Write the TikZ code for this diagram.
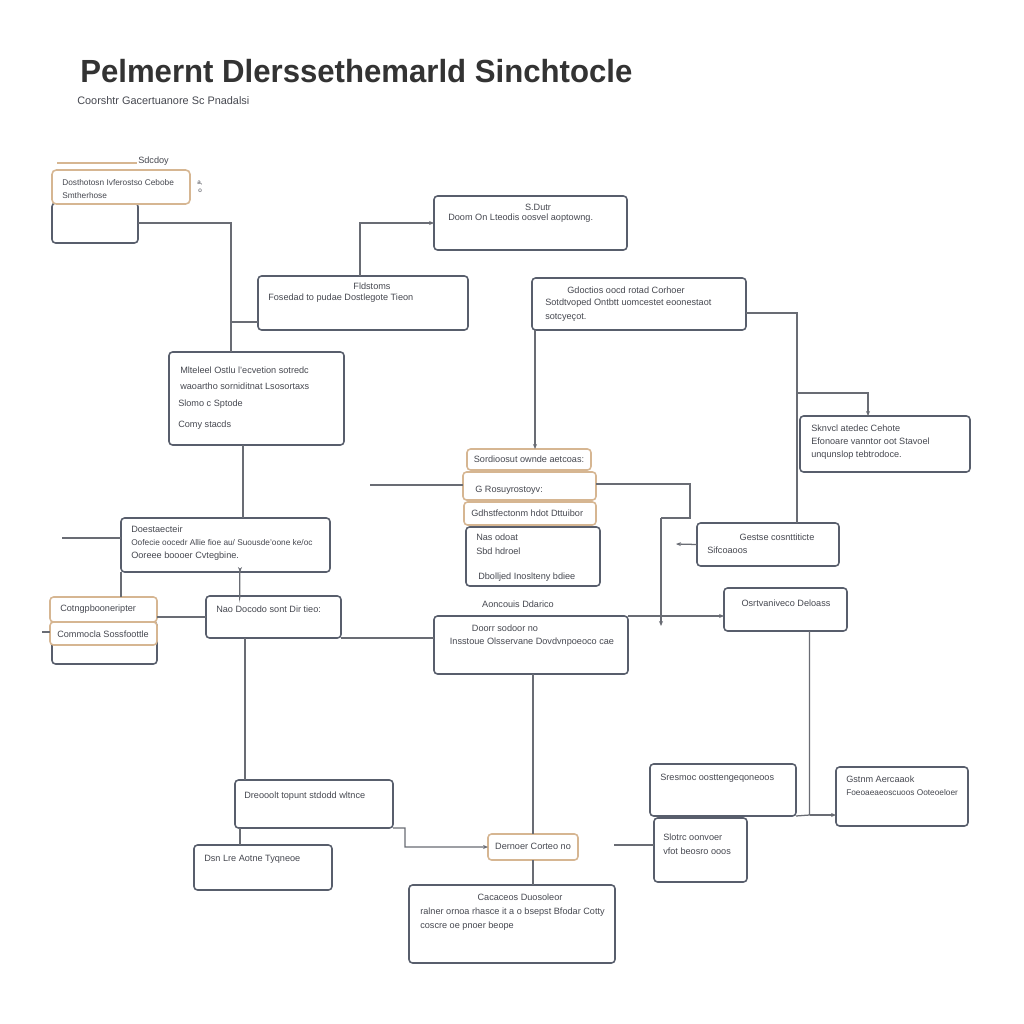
\documentclass[tikz,border=0pt]{standalone}
\usepackage{fontspec}
\setmainfont{Liberation Sans}
\usetikzlibrary{arrows.meta,calc}
\definecolor{boxc}{RGB}{88,94,108}
\definecolor{linec}{RGB}{105,108,116}
\definecolor{tanc}{RGB}{214,182,146}
\definecolor{txtc}{RGB}{70,72,80}
\newcommand{\mybx}[6][]{%
 \pgfmathsetmacro{\bxcx}{(#3+#5)/2}\pgfmathsetmacro{\bxcy}{(#4+#6)/2}%
 \pgfmathsetmacro{\bxw}{(#5-#3)*0.025}\pgfmathsetmacro{\bxh}{(#6-#4)*0.025}%
 \node[boxs,#1,minimum width=\bxw cm,minimum height=\bxh cm] (#2) at (\bxcx,\bxcy) {};}
\begin{document}
\begin{tikzpicture}[x=0.025cm,y=-0.025cm,
 boxs/.style={draw=boxc,line width=1.1pt,rounded corners=2.5pt,fill=white,inner sep=0pt,outer sep=0pt},
 tanbox/.style={draw=tanc,line width=1.1pt},
 t/.style={text=txtc,font=\fontsize{6.5}{7}\selectfont,inner sep=0pt,anchor=west},
 ts/.style={t,font=\fontsize{5.9}{7}\selectfont},
 tc/.style={t,anchor=center},
 conn/.style={draw=linec,line width=0.9pt},
 arr/.style={conn,-{Stealth[length=3.5pt,width=2.8pt]}}]
\useasboundingbox (0,0) rectangle (1024,1024);
\fill[white] (0,0) rectangle (1024,1024);

% title
\node[inner sep=0pt,anchor=base west,text=black!80] (title) at (80,83) {\resizebox{13.8cm}{0.58cm}{\bfseries Pelmernt Dlerssethemarld Sinchtocle}};
\node[inner sep=0pt,anchor=west,text=txtc] (sub) at (77,101) {\resizebox{4.3cm}{!}{\fontsize{6}{7}\selectfont Coorshtr Gacertuanore Sc Pnadalsi}};

% waypoints
\coordinate (w1) at (231,322);
\coordinate (w2) at (360,222);
\coordinate (w3) at (535,0);
\coordinate (w4) at (797,313);
\coordinate (w5) at (797,393);
\coordinate (w6) at (868,393);
\coordinate (w7) at (243,0);
\coordinate (e1) at (370,485);
\coordinate (w8) at (690,484);
\coordinate (w9) at (690,518);
\coordinate (w10) at (661,518);
\coordinate (w11) at (661,626);
\coordinate (a13) at (676,544);
\coordinate (e2) at (62,538);
\coordinate (w12) at (240,0);
\coordinate (w13) at (245,0);
\coordinate (w14) at (533,0);
\coordinate (w15) at (405,828);
\coordinate (w16) at (809.5,815);
\coordinate (e3) at (614,845);
\coordinate (e4) at (42,632);

% boxes
\mybx{b1c}{52}{203}{138}{243}
\mybx[tanbox,rounded corners=3pt]{b1}{52}{170}{190}{204}
\mybx{b2}{434}{196}{627}{250}
\mybx{b3}{258}{276}{468}{330}
\mybx{b4}{532}{278}{746}{330}
\mybx{b5}{169}{352}{344}{445}
\mybx{b6}{800}{416}{970}{472}
\mybx{b7d}{466}{527}{600}{586}
\mybx[draw=tanc]{b7c}{464}{502}{596}{525}
\mybx[tanbox]{b7b}{463}{472}{596}{500}
\mybx[tanbox]{b7a}{467}{449}{591}{470}
\mybx{b8}{121}{518}{330}{572}
\mybx{b9c}{52}{622}{157}{664}
\mybx[tanbox]{b9b}{50}{622}{157}{645}
\mybx[tanbox]{b9a}{50}{597}{157}{622}
\mybx{b10}{206}{596}{341}{638}
\mybx{b11}{434}{616}{628}{674}
\mybx{b12}{724}{588}{847}{631}
\mybx{b13}{697}{523}{839}{566}
\mybx{b14}{235}{780}{393}{828}
\mybx{b15}{194}{845}{332}{890}
\mybx[tanbox]{b16}{488}{834}{578}{860}
\mybx{b17}{409}{885}{615}{963}
\mybx{b19}{654}{818}{747}{882}
\mybx{b18}{650}{764}{796}{816}
\mybx{b20}{836}{767}{968}{826}

% connectors
\draw[conn] (b1c.east) -| (w1) -- (b3.west |- w1);
\draw[conn] (w1) -- (w1 |- b5.north);
\draw[arr] (b3.north -| w2) |- (b2.west);
\draw[arr] (b4.south -| w3) -- (b7a.north -| w3);
\draw[conn] (b4.east |- w4) -| (b13.north -| w4);
\draw[arr] (w5) -- (w6) -- (b6.north -| w6);
\draw[conn] (b5.south -| w7) -- (b8.north -| w7);
\draw[conn] (e1) -- (b7b.west |- e1);
\draw[conn] (b7b.east |- w8) -- (w8) -- (w9) -- (w10);
\draw[arr] (w10) -- (w11);
\draw[arr] (b11.north east) -- (b12.west |- b11.north east);
\draw[arr] (b13.west) -- (a13);
\draw[conn] (e2) -- (b8.west |- e2);
\draw[conn] (b8.south west) -- (b9a.north -| b8.south west);
\draw[conn] (b10.west) -- (b9a.east |- b10.west);
\draw[arr] (b10.north -| w12) to[out=-95,in=90] (b8.south -| w12);
\draw[conn] (b10.south east) -- (b11.west |- b10.south east);
\draw[conn] (b10.south -| w13) -- (b14.north -| w13);
\draw[conn] (b11.south -| w14) -- (b16.north -| w14);
\draw[arr] (b14.south east) -- (w15) |- (b16.west);
\draw[conn] (b14.south -| w12) -- (b15.north -| w12);
\draw[conn] (b16.south) -- (b17.north -| b16.south);
\draw[conn] (b12.south -| w16) -- (w16) -- (b18.south east);
\draw[arr] (w16) -- (b20.west |- w16);
\draw[conn] (e3) -- (b19.west |- e3);
\draw[conn] (e4) -- (b9b.west |- e4);

% texts
\node[ts] (tx1a) at (62,183) {Dosthotosn Ivferostso Cebobe};
\node[ts] (tx1b) at (62,196) {Smtherhose};
\draw[draw=tanc,line width=0.9pt] (b1.north west) ++(5,-7) coordinate (tab1) -- ++(80,0) coordinate (tab2);
\node[t] (tx1c) at (138,161) {Sdcdoy};
\node[t,font=\fontsize{4.5}{5}\selectfont] (tx1d) at (197,183) {a,};
\node[t,font=\fontsize{4.5}{5}\selectfont] (tx1e) at (198,191) {o};

\node[tc] (tx2a) at (538,207) {S.Dutr};
\node[t] (tx2b) at (448,218) {Doom On Lteodis oosvel aoptowng.};

\node[tc] (tx3a) at (372,286) {Fldstoms};
\node[t] (tx3b) at (268,298) {Fosedad to pudae Dostlegote Tieon};

\node[tc] (tx4a) at (626,290) {Gdoctios oocd rotad Corhoer};
\node[t] (tx4b) at (545,303) {Sotdtvoped Ontbtt uomcestet eoonestaot};
\node[t] (tx4c) at (545,318) {sotcyeçot.};

\node[t] (tx5a) at (180,370) {Mlteleel Ostlu l'ecvetion sotredc};
\node[t] (tx5b) at (180,386) {waoartho sorniditnat Lsosortaxs};
\node[t] (tx5c) at (178,404) {Slomo c Sptode};
\node[t] (tx5d) at (178,425) {Comy stacds};

\node[t] (tx6a) at (811,428) {Sknvcl atedec Cehote};
\node[t] (tx6b) at (811,441) {Efonoare vanntor oot Stavoel};
\node[t] (tx6c) at (811,455) {unqunslop tebtrodoce.};

\node[tc] (tx7a) at (529,459) {Sordioosut ownde aetcoas:};
\node[t] (tx7b) at (475,490) {G Rosuyrostoyv:};
\node[t] (tx7c) at (471,513) {Gdhstfectonm hdot Dttuibor};
\node[t] (tx7d) at (476,537) {Nas odoat};
\node[t] (tx7e) at (476,551) {Sbd hdroel};
\node[t] (tx7f) at (478,577) {Dbolljed Inoslteny bdiee};

\node[t] (tx8a) at (131,529) {Doestaecteir};
\node[ts] (tx8b) at (131,543) {Oofecie oocedr Allie fioe au/ Suousde'oone ke/oc};
\node[t] (tx8c) at (131,556) {Ooreee boooer Cvtegbine.};

\node[t] (tx9a) at (60,609) {Cotngpbooneripter};
\node[t] (tx9b) at (57,634) {Commocla Sossfoottle};

\node[t] (tx10) at (216,609) {Nao Docodo sont Dir tieo:};

\node[tc] (tx11l) at (518,604) {Aoncouis Ddarico};
\node[tc] (tx11a) at (505,628) {Doorr sodoor no};
\node[tc] (tx11b) at (532,642) {Insstoue Olsservane Dovdvnpoeoco cae};

\node[tc] (tx12) at (786,603) {Osrtvaniveco Deloass};

\node[tc] (tx13a) at (777,537) {Gestse cosnttiticte};
\node[t] (tx13b) at (707,550) {Sifcoaoos};

\node[t] (tx14) at (244,796) {Dreooolt topunt stdodd wltnce};
\node[t] (tx15) at (204,859) {Dsn Lre Aotne Tyqneoe};
\node[tc] (tx16) at (533,846) {Dernoer Corteo no};

\node[tc] (tx17a) at (520,897) {Cacaceos Duosoleor};
\node[t] (tx17b) at (420,912) {ralner ornoa rhasce it a o bsepst Bfodar Cotty};
\node[t] (tx17c) at (420,926) {coscre oe pnoer beope};

\node[t] (tx18) at (660,778) {Sresmoc oosttengeqoneoos};
\node[t] (tx19a) at (663,837) {Slotrc oonvoer};
\node[t] (tx19b) at (663,851) {vfot beosro ooos};
\node[t] (tx20a) at (846,779) {Gstnm Aercaaok};
\node[ts] (tx20b) at (846,793) {Foeoaeaeoscuoos Ooteoeloer};
\end{tikzpicture}
\end{document}
